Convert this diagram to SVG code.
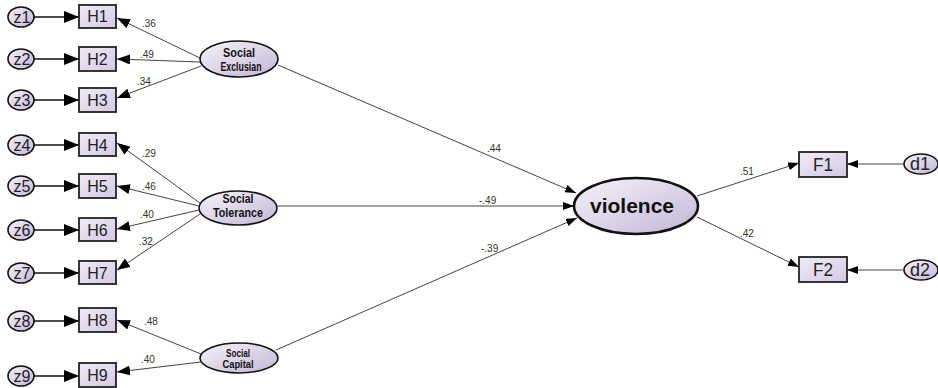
<svg xmlns="http://www.w3.org/2000/svg" width="938" height="388" viewBox="0 0 938 388">
<defs>
<linearGradient id="g" x1="0" y1="0" x2="1" y2="1">
<stop offset="0" stop-color="#f6f4fa"/>
<stop offset="1" stop-color="#c2b6d6"/>
</linearGradient>
<linearGradient id="gb" x1="0" y1="0" x2="1" y2="1">
<stop offset="0" stop-color="#efebf6"/>
<stop offset="1" stop-color="#d4cae4"/>
</linearGradient>
<marker id="big" markerUnits="userSpaceOnUse" markerWidth="16" markerHeight="12" refX="15" refY="6" orient="auto">
<path d="M0,0 L15,6 L0,12 Z" fill="#000"/>
</marker>
<marker id="mid" markerUnits="userSpaceOnUse" markerWidth="14" markerHeight="10" refX="13" refY="5" orient="auto">
<path d="M0,0 L13,5 L0,10 Z" fill="#000"/>
</marker>
<marker id="sm" markerUnits="userSpaceOnUse" markerWidth="12" markerHeight="8" refX="11" refY="4" orient="auto">
<path d="M0,0 L11,4 L0,8 Z" fill="#000"/>
</marker>
</defs>
<style>
.box{fill:url(#gb);stroke:#222;stroke-width:1.8}
.ell{fill:url(#g);stroke:#111;stroke-width:1.6}
.t{font-family:"Liberation Sans",Arial,sans-serif;fill:#222;text-anchor:middle}
.h{font-size:16px}
.z{font-size:16px}
.lat{font-size:13px;font-weight:bold;fill:#111}
.lbl{font-family:"Liberation Sans",Arial,sans-serif;font-size:10px;fill:#333}
.e1{stroke:#111;stroke-width:1.5;fill:none;marker-end:url(#big)}
.e2{stroke:#444;stroke-width:1;fill:none;marker-end:url(#mid)}
.e3{stroke:#444;stroke-width:1;fill:none;marker-end:url(#sm)}
</style>
<g id="connectors">
<line class="e1" x1="34" y1="17" x2="79" y2="17"/>
<line class="e1" x1="34" y1="59" x2="79" y2="59"/>
<line class="e1" x1="34" y1="100" x2="79" y2="100"/>
<line class="e1" x1="34" y1="145" x2="79" y2="145"/>
<line class="e1" x1="34" y1="186" x2="79" y2="186"/>
<line class="e1" x1="34" y1="230" x2="79" y2="230"/>
<line class="e1" x1="34" y1="273" x2="79" y2="273"/>
<line class="e1" x1="34" y1="321" x2="79" y2="321"/>
<line class="e1" x1="34" y1="376" x2="79" y2="376"/>
<line class="e2" x1="200" y1="58" x2="117" y2="18"/>
<line class="e2" x1="200" y1="62" x2="117" y2="59"/>
<line class="e2" x1="201" y1="66" x2="117" y2="98"/>
<line class="e2" x1="200" y1="203" x2="117" y2="143"/>
<line class="e2" x1="199" y1="206" x2="117" y2="186"/>
<line class="e2" x1="199" y1="210" x2="117" y2="229"/>
<line class="e2" x1="200" y1="214" x2="117" y2="270"/>
<line class="e2" x1="201" y1="354" x2="117" y2="320"/>
<line class="e2" x1="201" y1="362" x2="117" y2="372"/>
<line class="e3" x1="278" y1="65" x2="576" y2="193"/>
<line class="e3" x1="277" y1="206" x2="574" y2="206"/>
<line class="e3" x1="276" y1="350" x2="577" y2="218"/>
<line class="e3" x1="697" y1="196" x2="799" y2="163"/>
<line class="e3" x1="697" y1="217" x2="799" y2="267"/>
<line class="e3" x1="903" y1="164" x2="847" y2="164"/>
<line class="e3" x1="903" y1="270" x2="847" y2="270"/>
<text class="lbl" x="142" y="27">.36</text>
<text class="lbl" x="140" y="58">.49</text>
<text class="lbl" x="137" y="85">.34</text>
<text class="lbl" x="142" y="157">.29</text>
<text class="lbl" x="142" y="190">.46</text>
<text class="lbl" x="140" y="218">.40</text>
<text class="lbl" x="139" y="245">.32</text>
<text class="lbl" x="144" y="325">.48</text>
<text class="lbl" x="141" y="363">.40</text>
<text class="lbl" x="487" y="152">.44</text>
<text class="lbl" x="479" y="204">-.49</text>
<text class="lbl" x="481" y="252">-.39</text>
<text class="lbl" x="740" y="175">.51</text>
<text class="lbl" x="740" y="237">.42</text>
</g>
<g id="z1"><ellipse class="ell" cx="21" cy="17" rx="13" ry="10"/><text class="t z" x="22" y="23">z1</text></g>
<g id="z2"><ellipse class="ell" cx="21" cy="59" rx="13" ry="10"/><text class="t z" x="22" y="65">z2</text></g>
<g id="z3"><ellipse class="ell" cx="21" cy="100" rx="13" ry="10"/><text class="t z" x="22" y="106">z3</text></g>
<g id="z4"><ellipse class="ell" cx="21" cy="145" rx="13" ry="10"/><text class="t z" x="22" y="151">z4</text></g>
<g id="z5"><ellipse class="ell" cx="21" cy="186" rx="13" ry="10"/><text class="t z" x="22" y="192">z5</text></g>
<g id="z6"><ellipse class="ell" cx="21" cy="230" rx="13" ry="10"/><text class="t z" x="22" y="236">z6</text></g>
<g id="z7"><ellipse class="ell" cx="21" cy="273" rx="13" ry="10"/><text class="t z" x="22" y="279">z7</text></g>
<g id="z8"><ellipse class="ell" cx="21" cy="321" rx="13" ry="10"/><text class="t z" x="22" y="327">z8</text></g>
<g id="z9"><ellipse class="ell" cx="21" cy="376" rx="13" ry="10"/><text class="t z" x="22" y="382">z9</text></g>
<g id="H1"><rect class="box" x="79" y="5" width="37" height="23"/><text class="t h" x="97.5" y="22">H1</text></g>
<g id="H2"><rect class="box" x="79" y="47" width="37" height="24"/><text class="t h" x="97.5" y="65">H2</text></g>
<g id="H3"><rect class="box" x="79" y="88" width="37" height="24"/><text class="t h" x="97.5" y="106">H3</text></g>
<g id="H4"><rect class="box" x="79" y="133" width="37" height="23"/><text class="t h" x="97.5" y="151">H4</text></g>
<g id="H5"><rect class="box" x="79" y="174" width="37" height="24"/><text class="t h" x="97.5" y="192">H5</text></g>
<g id="H6"><rect class="box" x="79" y="218" width="37" height="23"/><text class="t h" x="97.5" y="236">H6</text></g>
<g id="H7"><rect class="box" x="79" y="261" width="37" height="23"/><text class="t h" x="97.5" y="279">H7</text></g>
<g id="H8"><rect class="box" x="79" y="308" width="37" height="24"/><text class="t h" x="97.5" y="326">H8</text></g>
<g id="H9"><rect class="box" x="79" y="363" width="37" height="24"/><text class="t h" x="97.5" y="381">H9</text></g>
<g id="social-exclusian"><ellipse class="ell" cx="239" cy="59" rx="39" ry="18"/><text class="t lat" x="239" y="57" textLength="32" lengthAdjust="spacingAndGlyphs">Social</text><text class="t lat" x="241" y="71" textLength="41" lengthAdjust="spacingAndGlyphs">Exclusian</text></g>
<g id="social-tolerance"><ellipse class="ell" cx="238" cy="208" rx="39" ry="17"/><text class="t lat" x="238" y="203" textLength="31" lengthAdjust="spacingAndGlyphs">Social</text><text class="t lat" x="238" y="217" textLength="50" lengthAdjust="spacingAndGlyphs">Tolerance</text></g>
<g id="social-capital"><ellipse class="ell" cx="239" cy="358" rx="39" ry="15"/><text class="t lat" x="238" y="357" style="font-size:11px" textLength="24" lengthAdjust="spacingAndGlyphs">Social</text><text class="t lat" x="238" y="368" style="font-size:11px" textLength="31" lengthAdjust="spacingAndGlyphs">Capital</text></g>
<g id="violence"><ellipse class="ell" cx="636" cy="206" rx="62" ry="28" style="stroke-width:2.6"/><text class="t" x="632" y="213" style="font-size:21px;font-weight:bold;fill:#111">violence</text></g>
<g id="F1"><rect class="box" x="799" y="152" width="48" height="25"/><text class="t" x="823" y="171" style="font-size:18px" textLength="20" lengthAdjust="spacingAndGlyphs">F1</text></g>
<g id="F2"><rect class="box" x="799" y="257" width="48" height="25"/><text class="t" x="823" y="276" style="font-size:18px" textLength="20" lengthAdjust="spacingAndGlyphs">F2</text></g>
<g id="d1"><ellipse class="ell" cx="921" cy="164" rx="17" ry="10"/><text class="t" x="920" y="170" style="font-size:18px">d1</text></g>
<g id="d2"><ellipse class="ell" cx="921" cy="270" rx="17" ry="10"/><text class="t" x="920" y="276" style="font-size:18px">d2</text></g>
</svg>
